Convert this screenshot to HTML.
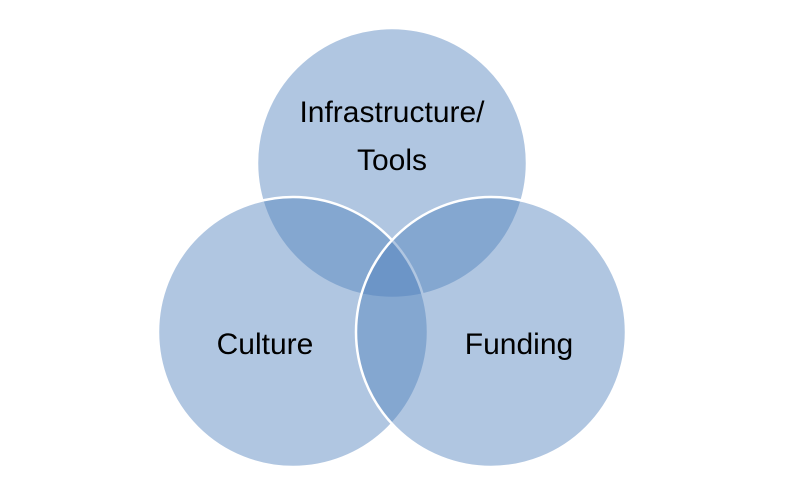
<!DOCTYPE html>
<html><head><meta charset="utf-8"><style>
html,body{margin:0;padding:0;background:#fff;width:804px;height:494px;overflow:hidden}
svg{display:block}
text{font-family:"Liberation Sans",sans-serif;font-size:30px;fill:#000;text-anchor:middle}
</style></head><body>
<svg width="804" height="494" viewBox="0 0 804 494">
<g fill="rgb(79,129,189)" fill-opacity="0.45" stroke="#fff" stroke-width="2.5">
<circle cx="392" cy="163" r="135"/>
<circle cx="293" cy="332" r="135"/>
<circle cx="491" cy="332" r="135"/>
</g>
<text x="392" y="122">Infrastructure/</text>
<text x="392" y="170">Tools</text>
<text x="265" y="354">Culture</text>
<text x="519" y="354">Funding</text>
</svg>
</body></html>
